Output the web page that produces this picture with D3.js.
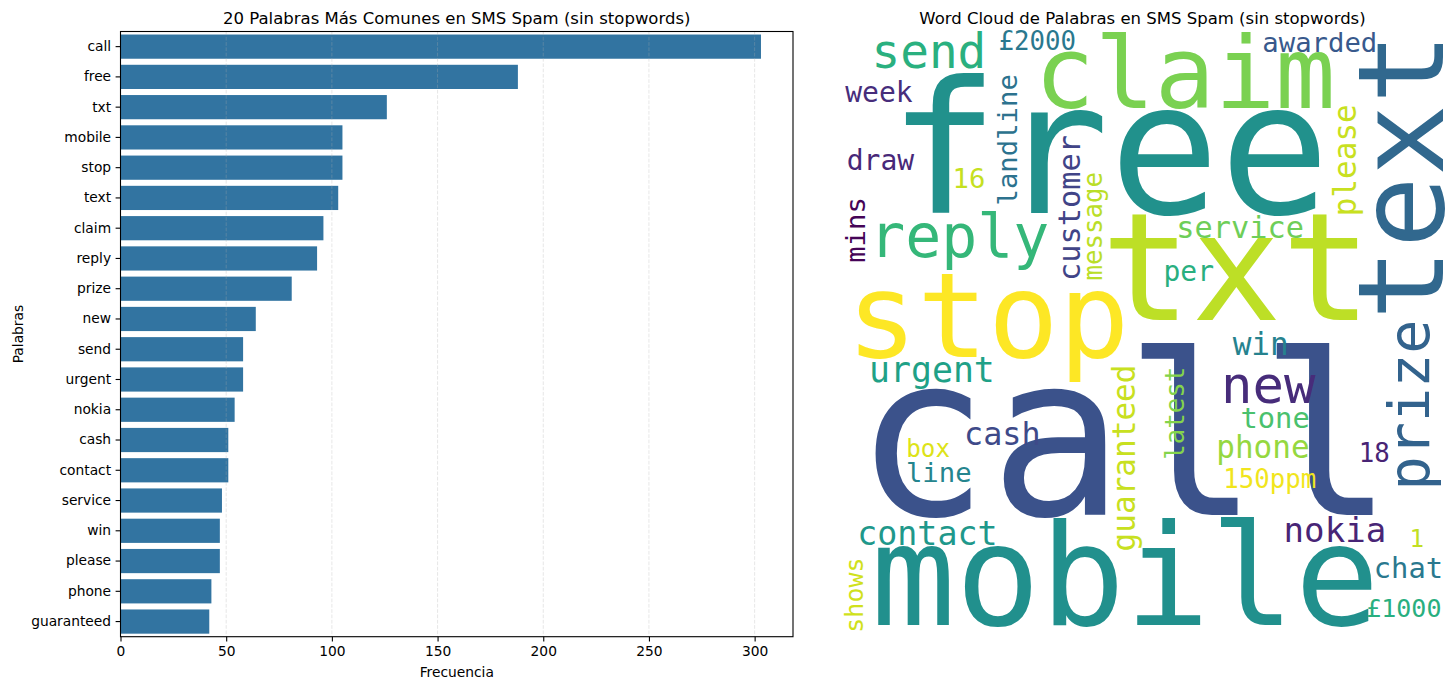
<!DOCTYPE html>
<html lang="es">
<head>
    <meta charset="UTF-8">
    <title>SMS Spam palabras</title>
    <script src="https://d3js.org/d3.v7.min.js"></script>
    <style>
        body { margin: 0; background: #fff; }
        text { font-family: "DejaVu Sans", sans-serif; }
    </style>
</head>
<body>
    <script>
        // bar chart data: top 20 words in spam messages
        var words = ['call', 'free', 'txt', 'mobile', 'stop', 'text', 'claim', 'reply', 'prize', 'new',
                     'send', 'urgent', 'nokia', 'cash', 'contact', 'service', 'win', 'please', 'phone', 'guaranteed'];
        var counts = [303, 188, 126, 105, 105, 103, 96, 93, 81, 64,
                      58, 58, 54, 51, 51, 48, 47, 47, 43, 42];
        var xTicks = [0, 50, 100, 150, 200, 250, 300];

        // word cloud, as laid out in the 800x800 wordcloud image
        var cloudWords = ['call', 'free', 'txt', 'stop', 'mobile', 'claim', 'text', 'prize', 'reply', 'send',
                          '£2000', 'awarded', 'week', 'draw', '16', 'landline', 'customer', 'message', 'mins', 'please',
                          'service', 'per', 'urgent', 'cash', 'box', 'line', 'guaranteed', 'latest', 'win', 'new',
                          'tone', 'phone', '18', '150ppm', 'contact', 'nokia', '1', 'chat', '£1000', 'shows'];
        var cloudSize = [296, 242, 198, 155, 186, 132, 158, 75, 79, 63,
                         34, 36, 37, 37, 36, 36, 40, 34, 36, 41,
                         40, 37, 46, 42, 32, 36, 41, 34, 41, 69,
                         38, 41, 34, 34, 44, 45, 32, 38, 33, 33];
        var cloudX = [376, 356, 524, 196, 377, 456, 797, 778, 158, 118,
                      261, 634, 52, 54, 171, 234, 318, 347, 34, 682,
                      529, 461, 122, 215, 117, 131, 390, 455, 556, 566,
                      575, 559, 706, 568, 116, 654, 762, 751, 745, 31];
        var cloudY = [638, 240, 381, 430, 784, 101, 191, 493, 298, 48,
                      24, 27, 93, 183, 207, 143, 233, 257, 262, 170,
                      273, 329, 463, 546, 562, 595, 563, 504, 427, 490,
                      523, 563, 568, 603, 678, 674, 681, 721, 773, 744];
        var cloudVertical = [0, 0, 0, 0, 0, 0, 1, 1, 0, 0,
                             0, 0, 0, 0, 0, 1, 1, 1, 1, 1,
                             0, 0, 0, 0, 0, 0, 1, 1, 0, 0,
                             0, 0, 0, 0, 0, 0, 0, 0, 0, 1];
        var cloudColors = ['#3b528b', '#21918c', '#bddf26', '#fde725', '#21908d', '#7ad151', '#31688e', '#33638d', '#35b779', '#2ab07f',
                           '#2a788e', '#38598c', '#472d7b', '#482878', '#c5e021', '#2c728e', '#414487', '#bade28', '#450457', '#c8e020',
                           '#6ece58', '#29af7f', '#1fa187', '#3e4a89', '#dde318', '#25858e', '#c8e020', '#84d44b', '#26828e', '#472c7a',
                           '#4ac16d', '#95d840', '#482475', '#f1e51d', '#1f988b', '#482576', '#c2df23', '#2a788e', '#29af7f', '#d0e11c'];

        var width = 1456;
        var height = 690;

        var svg = d3.select('body').append('svg')
            .attr('width', width)
            .attr('height', height);

        // ---- left panel: horizontal bars ----
        var plotL = 120.5, plotR = 793, plotT = 31.5, plotB = 636.7;

        var x = d3.scaleLinear()
            .domain([0, d3.max(counts) * 1.05])
            .range([plotL, plotR]);

        var y = d3.scaleBand()
            .domain(words)
            .range([plotT, plotB])
            .paddingInner(0.2)
            .paddingOuter(0.1);

        svg.selectAll('rect.bar')
            .data(words)
            .enter()
            .append('rect')
            .attr('class', 'bar')
            .attr('x', x(0))
            .attr('y', function (d) { return y(d); })
            .attr('width', function (d, i) { return x(counts[i]) - x(0); })
            .attr('height', y.bandwidth())
            .attr('fill', '#3274a1');

        // dashed grid sits over the bars, very faint
        svg.selectAll('line.grid')
            .data(xTicks)
            .enter()
            .append('line')
            .attr('class', 'grid')
            .attr('x1', function (d) { return x(d); })
            .attr('x2', function (d) { return x(d); })
            .attr('y1', plotT)
            .attr('y2', plotB)
            .attr('stroke', '#b0b0b0')
            .attr('stroke-opacity', 0.3)
            .attr('stroke-width', 1)
            .attr('stroke-dasharray', '3.7,1.6');

        var xAxis = svg.append('g')
            .attr('transform', 'translate(0,' + plotB + ')')
            .call(d3.axisBottom(x).tickValues(xTicks).tickSize(4.9).tickPadding(4.5));
        var yAxis = svg.append('g')
            .attr('transform', 'translate(' + plotL + ',0)')
            .call(d3.axisLeft(y).tickSize(4.9).tickPadding(4.5));

        [xAxis, yAxis].forEach(function (g) {
            g.select('.domain').remove();
            g.selectAll('line').attr('stroke', '#000').attr('stroke-width', 1.1);
            g.selectAll('text')
                .attr('fill', '#000')
                .style('font-family', '"DejaVu Sans", sans-serif')
                .style('font-size', '13.8px');
        });

        // frame
        svg.append('rect')
            .attr('x', plotL)
            .attr('y', plotT)
            .attr('width', plotR - plotL)
            .attr('height', plotB - plotT)
            .attr('fill', 'none')
            .attr('stroke', '#000')
            .attr('stroke-width', 1.1);

        svg.append('text')
            .attr('x', (plotL + plotR) / 2)
            .attr('y', 24)
            .attr('text-anchor', 'middle')
            .style('font-size', '16.5px')
            .text('20 Palabras Más Comunes en SMS Spam (sin stopwords)');

        svg.append('text')
            .attr('x', (plotL + plotR) / 2)
            .attr('y', 677)
            .attr('text-anchor', 'middle')
            .style('font-size', '13.8px')
            .text('Frecuencia');

        svg.append('text')
            .attr('transform', 'translate(23,' + (plotT + plotB) / 2 + ') rotate(-90)')
            .attr('text-anchor', 'middle')
            .style('font-size', '13.8px')
            .text('Palabras');

        // ---- right panel: word cloud ----
        var cloudLeft = 839.5, cloudTop = 31.5, cloudSide = 606;

        var cx = d3.scaleLinear().domain([0, 800]).range([cloudLeft, cloudLeft + cloudSide]);
        var cy = d3.scaleLinear().domain([0, 800]).range([cloudTop, cloudTop + cloudSide]);
        var cs = d3.scaleLinear().domain([0, 800]).range([0, cloudSide]);

        svg.append('text')
            .attr('x', cloudLeft + cloudSide / 2)
            .attr('y', 24)
            .attr('text-anchor', 'middle')
            .style('font-size', '16.5px')
            .text('Word Cloud de Palabras en SMS Spam (sin stopwords)');

        svg.append('g')
            .selectAll('text')
            .data(cloudWords)
            .enter()
            .append('text')
            .attr('transform', function (d, i) {
                var t = 'translate(' + cx(cloudX[i]) + ',' + cy(cloudY[i]) + ')';
                return cloudVertical[i] ? t + ' rotate(-90)' : t;
            })
            .attr('text-anchor', 'middle')
            .attr('fill', function (d, i) { return cloudColors[i]; })
            .style('font-family', '"DejaVu Sans Mono", monospace')
            .style('font-size', function (d, i) { return cs(cloudSize[i]) + 'px'; })
            .text(function (d) { return d; });
    </script>
</body>
</html>
